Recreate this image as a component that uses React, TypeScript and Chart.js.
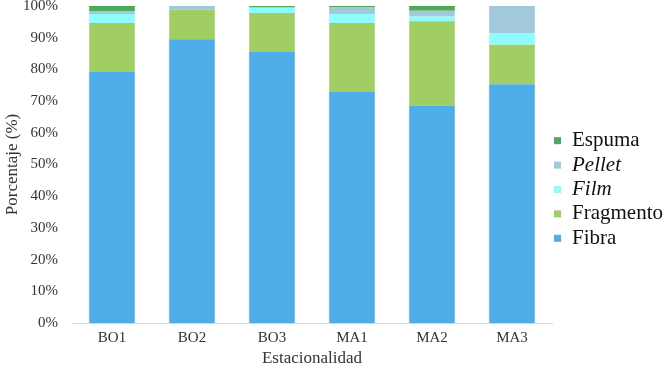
import React, { useEffect, useRef } from "react";
import { Chart, registerables } from "chart.js";

Chart.register(...registerables);

const categories = ["BO1", "BO2", "BO3", "MA1", "MA2", "MA3"];
const fibra = [79.2, 89.5, 85.5, 72.9, 68.5, 75.3];
const fragmento = [15.4, 9.3, 12.3, 21.7, 26.7, 12.5];
const film = [2.9, 0, 1.6, 2.9, 1.5, 3.5];
const pellet = [0.9, 1.2, 0.2, 2.0, 1.8, 8.7];
const espuma = [1.6, 0, 0.4, 0.5, 1.5, 0];
const yTicks = [0, 10, 20, 30, 40, 50, 60, 70, 80, 90, 100];

const FONT = "'Liberation Serif', 'DejaVu Serif', serif";
const TEXT = "#333333";
const italicLabels = new Set(["Pellet", "Film"]);

const legendPlugin = {
  id: "customLegend",
  afterDraw(chart: any) {
    const { ctx, chartArea } = chart;
    const ds = chart.data.datasets.slice().reverse();
    const cy = (chartArea.top + chartArea.bottom) / 2 + 25;
    const step = 24.4;
    ctx.save();
    ds.forEach((d: any, i: number) => {
      const y = cy + (i - (ds.length - 1) / 2) * step;
      ctx.fillStyle = d.backgroundColor;
      ctx.fillRect(chartArea.right + 2, y - 3.5, 7, 7);
      ctx.fillStyle = "#111";
      ctx.font = (italicLabels.has(d.label) ? "italic " : "") + "21px " + FONT;
      ctx.textBaseline = "middle";
      ctx.textAlign = "left";
      ctx.fillText(d.label, chartArea.right + 20, y);
    });
    ctx.restore();
  },
};

export default function App() {
  const ref = useRef<HTMLCanvasElement>(null);
  useEffect(() => {
    if (!ref.current) return;
    const chart = new Chart(ref.current, {
      type: "bar",
      data: {
        labels: categories,
        datasets: [
          { label: "Fibra", data: fibra, backgroundColor: "#4EACE8" },
          { label: "Fragmento", data: fragmento, backgroundColor: "#A0CE63" },
          { label: "Film", data: film, backgroundColor: "#90FBFC" },
          { label: "Pellet", data: pellet, backgroundColor: "#A1C9D9" },
          { label: "Espuma", data: espuma, backgroundColor: "#4CAA5A" },
        ],
      },
      options: {
        animation: false,
        responsive: false,
        layout: { padding: { top: 0, right: 117, bottom: 0, left: 0 } },
        datasets: { bar: { categoryPercentage: 1, barPercentage: 0.57, borderWidth: 0 } },
        plugins: { legend: { display: false }, tooltip: { enabled: false } },
        scales: {
          x: {
            stacked: true,
            grid: { display: false, drawTicks: false },
            border: { display: true, color: "#D9D9D9", width: 1 },
            ticks: { color: TEXT, font: { family: FONT, size: 15 }, padding: 6 },
            title: {
              display: true,
              text: "Estacionalidad",
              color: TEXT,
              font: { family: FONT, size: 17 },
              padding: { top: 0, bottom: 0 },
            },
            afterFit: (s: any) => {
              s.height = 46;
            },
          },
          y: {
            stacked: true,
            min: 0,
            max: 100,
            grid: { display: false, drawTicks: false },
            border: { display: false },
            afterBuildTicks: (s: any) => {
              s.ticks = yTicks.map((v) => ({ value: v }));
            },
            ticks: {
              color: TEXT,
              font: { family: FONT, size: 15 },
              padding: 14,
              callback: (v: any) => v + "%",
            },
            title: {
              display: true,
              text: "Porcentaje (%)",
              color: TEXT,
              font: { family: FONT, size: 17 },
              padding: { top: 2, bottom: 2 },
            },
            afterFit: (s: any) => {
              s.width = 72;
              s.paddingTop = 6;
              s.paddingBottom = 0;
            },
          },
        },
      },
      plugins: [legendPlugin],
    });
    return () => chart.destroy();
  }, []);
  return (
    <div style={{ position: "fixed", left: 0, top: 0, width: 669, height: 369, background: "#fff" }}>
      <canvas ref={ref} width={669} height={369} />
    </div>
  );
}
